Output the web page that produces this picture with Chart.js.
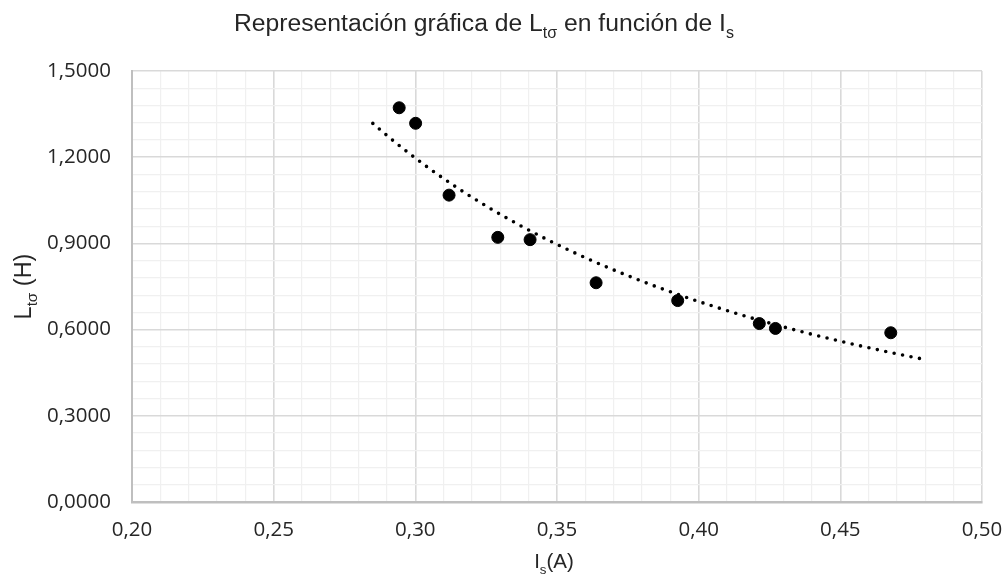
<!DOCTYPE html>
<html>
<head>
<meta charset="utf-8">
<script src="https://cdn.jsdelivr.net/npm/chart.js@4/dist/chart.umd.min.js"></script>
<style>
  html, body { margin: 0; padding: 0; background: #fff; }
</style>
</head>
<body>
<canvas id="chart" width="1008" height="580"></canvas>
<script>
// measured stator current (A) and leakage inductance (H)
const currentIs = [0.2943, 0.3001, 0.3119, 0.3291, 0.3405, 0.3638, 0.3926, 0.4214, 0.4271, 0.4678];
const inductanceL = [1.372, 1.318, 1.068, 0.921, 0.913, 0.763, 0.701, 0.621, 0.604, 0.589];

// labelled ticks
const xMajor = [0.20, 0.25, 0.30, 0.35, 0.40, 0.45, 0.50];
const xTickLabels = ['0,20', '0,25', '0,30', '0,35', '0,40', '0,45', '0,50'];
const yMajor = [0, 0.3, 0.6, 0.9, 1.2, 1.5];
const yTickLabels = ['0,0000', '0,3000', '0,6000', '0,9000', '1,2000', '1,5000'];

// extent of the power trend line
const trendFrom = 0.285;
const trendTo = 0.478;

// least squares fit of y = a * x^b on log-log values
function powerFit(xs, ys) {
    const lx = xs.map(Math.log), ly = ys.map(Math.log);
    const n = xs.length;
    const mx = lx.reduce((a, b) => a + b) / n;
    const my = ly.reduce((a, b) => a + b) / n;
    let sxy = 0, sxx = 0;
    for (let i = 0; i < n; i++) {
        sxy += (lx[i] - mx) * (ly[i] - my);
        sxx += (lx[i] - mx) * (lx[i] - mx);
    }
    const b = sxy / sxx;
    const a = Math.exp(my - b * mx);
    return x => a * Math.pow(x, b);
}

const fit = powerFit(currentIs, inductanceL);
const trend = [];
for (let i = 0; i <= 60; i++) {
    const x = trendFrom + (trendTo - trendFrom) * i / 60;
    trend.push({ x: x, y: fit(x) });
}

const labelFor = (majors, labels) => value => {
    const i = majors.findIndex(m => Math.abs(m - value) < 1e-6);
    return i >= 0 ? labels[i] : '';
};
const isMajor = majors => value => majors.some(m => Math.abs(m - value) < 1e-6);
const xIsMajor = isMajor(xMajor);
const yIsMajor = isMajor(yMajor);

const titleFont = '"Liberation Sans", Arial, sans-serif';
const textColor = '#262626';

// text with subscript runs, drawn left to right from x
function drawRich(ctx, parts, x, y, size) {
    let cx = x;
    parts.forEach(p => {
        const s = p.sub ? size * 0.65 : size;
        ctx.font = s + 'px ' + titleFont;
        ctx.fillText(p.t, cx, p.sub ? y + size * 0.27 : y);
        cx += ctx.measureText(p.t).width;
    });
}
function richWidth(ctx, parts, size) {
    let w = 0;
    parts.forEach(p => {
        ctx.font = (p.sub ? size * 0.65 : size) + 'px ' + titleFont;
        w += ctx.measureText(p.t).width;
    });
    return w;
}

const titleParts = [
    { t: 'Representación gráfica de L' }, { t: 'tσ', sub: true },
    { t: ' en función de I' }, { t: 's', sub: true }
];
const xTitleParts = [{ t: 'I' }, { t: 's', sub: true }, { t: '(A)' }];
const yTitleParts = [{ t: 'L' }, { t: 'tσ', sub: true }, { t: ' (H)' }];

const textPlugin = {
    id: 'richTitles',
    afterDraw(chart) {
        const ctx = chart.ctx;
        const area = chart.chartArea;
        ctx.save();
        ctx.fillStyle = textColor;
        ctx.textBaseline = 'alphabetic';
        ctx.textAlign = 'left';

        drawRich(ctx, titleParts, 234, 31, 24.7);

        const xSize = 20.5;
        const cx = (area.left + area.right) / 2 - 3;
        const xw = richWidth(ctx, xTitleParts, xSize);
        drawRich(ctx, xTitleParts, cx - xw / 2, 568, xSize);

        const ySize = 23.5;
        const cy = (area.top + area.bottom) / 2;
        const yw = richWidth(ctx, yTitleParts, ySize);
        ctx.translate(31, cy);
        ctx.rotate(-Math.PI / 2);
        drawRich(ctx, yTitleParts, -yw / 2, 0, ySize);
        ctx.restore();
    }
};

const tickFont = { family: '"Open Sans", sans-serif', size: 20.5 };

new Chart(document.getElementById('chart'), {
    type: 'scatter',
    data: {
        datasets: [
            {
                label: 'Ltσ',
                data: currentIs.map((x, i) => ({ x: x, y: inductanceL[i] })),
                backgroundColor: '#000',
                borderColor: '#000',
                pointRadius: 6,
                pointBorderWidth: 1,
                order: 2
            },
            {
                type: 'line',
                label: 'Potencial',
                data: trend,
                borderColor: '#000',
                borderWidth: 3.6,
                borderDash: [0, 8.6],
                borderCapStyle: 'round',
                pointRadius: 0,
                fill: false,
                tension: 0,
                order: 1
            }
        ]
    },
    options: {
        responsive: false,
        devicePixelRatio: 1,
        animation: false,
        layout: { padding: { top: 71, right: 26, left: 0, bottom: 0 } },
        plugins: {
            legend: { display: false },
            tooltip: { enabled: false },
            title: { display: false }
        },
        scales: {
            x: {
                type: 'linear',
                min: 0.2,
                max: 0.5,
                afterFit(scale) {
                    scale.height = 78;
                    // end labels may overhang the plot edges
                    scale.paddingLeft = 0;
                    scale.paddingRight = 0;
                },
                ticks: {
                    stepSize: 0.01,
                    autoSkip: false,
                    maxRotation: 0,
                    padding: 16,
                    color: textColor,
                    font: tickFont,
                    callback: labelFor(xMajor, xTickLabels)
                },
                grid: {
                    drawTicks: false,
                    color: c => xIsMajor(c.tick.value) ? '#d9d9d9' : '#f0f0f0',
                    lineWidth: c => xIsMajor(c.tick.value) ? 1.6 : 1.2
                },
                border: { color: '#bfbfbf', width: 2.5 }
            },
            y: {
                type: 'linear',
                min: 0,
                max: 1.5,
                afterFit(scale) {
                    scale.width = 132;
                    scale.paddingTop = 0;
                    scale.paddingBottom = 0;
                },
                ticks: {
                    stepSize: 0.06,
                    autoSkip: false,
                    padding: 21,
                    color: textColor,
                    font: tickFont,
                    callback: labelFor(yMajor, yTickLabels)
                },
                grid: {
                    drawTicks: false,
                    color: c => yIsMajor(c.tick.value) ? '#d9d9d9' : '#f0f0f0',
                    lineWidth: c => yIsMajor(c.tick.value) ? 1.6 : 1.2
                },
                border: { color: '#bfbfbf', width: 2 }
            }
        }
    },
    plugins: [textPlugin]
});
</script>
</body>
</html>
